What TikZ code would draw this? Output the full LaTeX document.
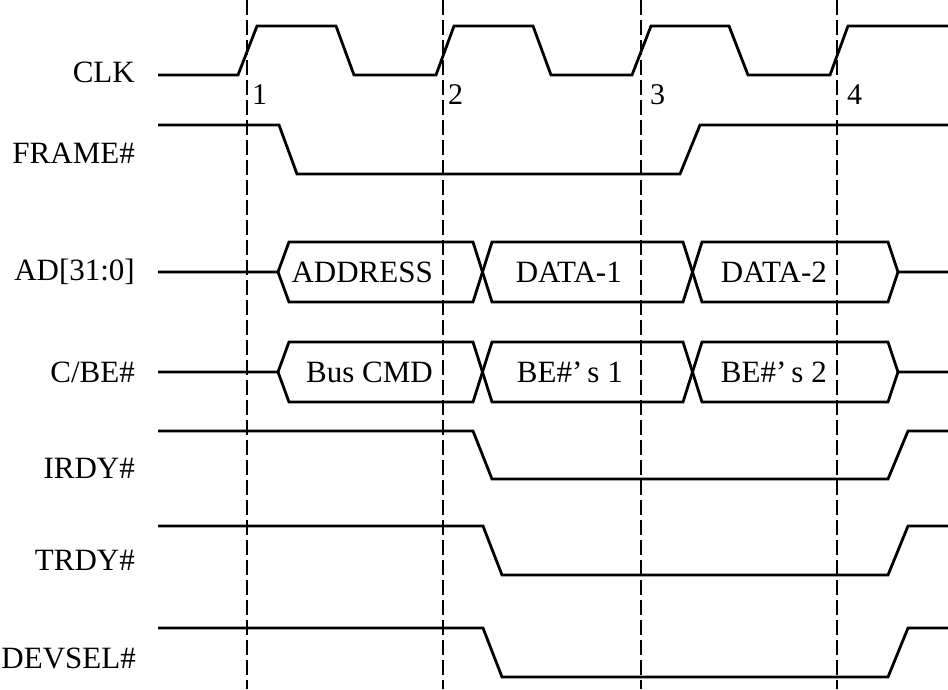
\documentclass[tikz,border=0pt]{standalone}
\usepackage{fontspec}
\setmainfont{Liberation Serif}
\begin{document}
\begin{tikzpicture}[x=1pt,y=-1pt,
  sig/.style={line width=2.8pt,line join=miter},
  clkmark/.style={dash pattern=on 15pt off 5pt,line width=1.8pt},
  lbl/.style={font=\fontsize{31}{37}\selectfont,inner sep=0pt,anchor=base east},
  num/.style={font=\fontsize{30}{36}\selectfont,inner sep=0pt,anchor=base west},
  bustxt/.style={font=\fontsize{31}{37}\selectfont,inner sep=0pt,anchor=base east}]
\useasboundingbox (0,0) rectangle (948,689);
% clock edge markers
\foreach \x/\n in {247/1,443/2,641/3,837/4}{
  \coordinate (t\n top) at (\x,0);
  \coordinate (t\n bot) at (\x,689);
  \draw[clkmark] (t\n top) -- (t\n bot);
}
% signal names
\node[lbl] (nclk) at (135,82) {CLK};
\node[lbl] (nframe) at (135,163) {FRAME\#};
\node[lbl] (nad) at (135,280) {AD[31:0]};
\node[lbl] (ncbe) at (135,382) {C/BE\#};
\node[lbl] (nirdy) at (135,478) {IRDY\#};
\node[lbl] (ntrdy) at (135,570) {TRDY\#};
\node[lbl] (ndevsel) at (136,668) {DEVSEL\#};
% clock numbers
\node[num] (c1) at (252,104) {1};
\node[num] (c2) at (448,104) {2};
\node[num] (c3) at (650,104) {3};
\node[num] (c4) at (847,104) {4};
% CLK
\draw[sig] (158,75) -- (238,75) -- (257,26) -- (336,26) -- (354,75) -- (436,75) -- (454,26)
  -- (533,26) -- (551,75) -- (632,75) -- (651,26) -- (729,26) -- (748,75) -- (830,75)
  -- (848,26) -- (948,26);
% FRAME#
\draw[sig] (158,125) -- (279,125) -- (297,174) -- (680,174) -- (700,125) -- (948,125);
% buses
\foreach \c in {272,372}{
  \draw[sig] (158,\c) -- (278,\c) -- (289,\c-30) -- (473,\c-30) -- (492,\c+30) -- (683,\c+30)
    -- (702,\c-30) -- (888,\c-30) -- (898,\c) -- (948,\c);
  \draw[sig] (278,\c) -- (289,\c+30) -- (473,\c+30) -- (492,\c-30) -- (683,\c-30)
    -- (702,\c+30) -- (888,\c+30) -- (898,\c);
}
\node[bustxt] (addr) at (433,282) {ADDRESS};
\node[bustxt] (d1) at (622,282) {DATA-1};
\node[bustxt] (d2) at (827,282) {DATA-2};
\node[bustxt] (cmd) at (433,382) {Bus CMD};
\node[bustxt] (be1) at (623,382) {BE\#’\,s 1};
\node[bustxt] (be2) at (827,382) {BE\#’\,s 2};
% IRDY#
\draw[sig] (158,431) -- (473,431) -- (492,479) -- (888,479) -- (908,431) -- (948,431);
% TRDY#
\draw[sig] (158,526) -- (483,526) -- (502,575) -- (888,575) -- (908,526) -- (948,526);
% DEVSEL#
\draw[sig] (158,628) -- (483,628) -- (502,677) -- (888,677) -- (908,628) -- (948,628);
\end{tikzpicture}
\end{document}
